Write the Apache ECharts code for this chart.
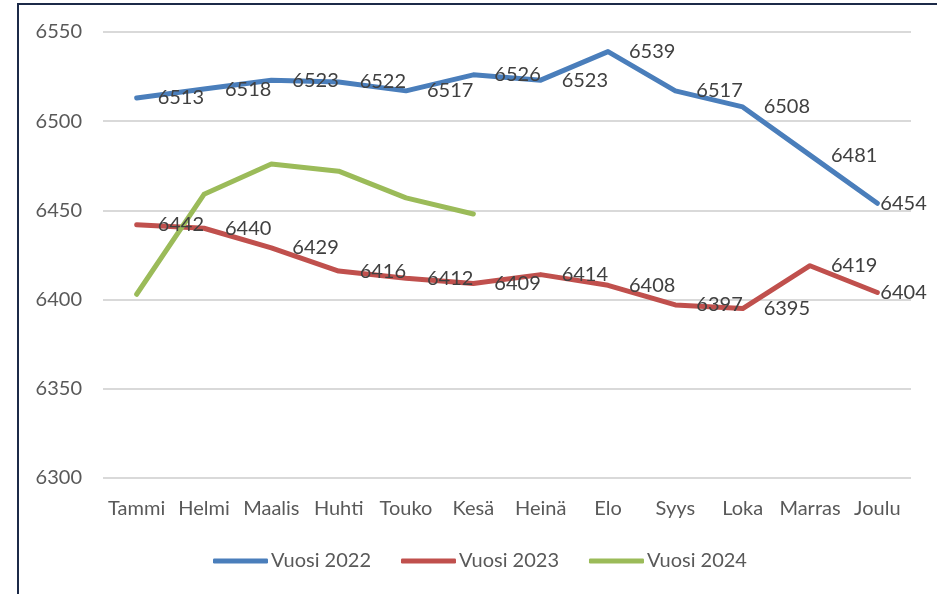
<!DOCTYPE html>
<html lang="fi">
<head>
    <meta charset="UTF-8">
    <title>Vuosi 2022-2024</title>
    <style>
        html, body { margin: 0; padding: 0; background: #fff; }
        #chart { width: 937px; height: 594px; }
    </style>
</head>
<body>
    <div id="chart"></div>
    <script src="https://cdn.jsdelivr.net/npm/echarts@6/dist/echarts.min.js"></script>
    <script>
        // kuukaudet ja sarjat
        var months = ['Tammi', 'Helmi', 'Maalis', 'Huhti', 'Touko', 'Kesä', 'Heinä', 'Elo', 'Syys', 'Loka', 'Marras', 'Joulu'];
        var vuosi2022 = [6513, 6518, 6523, 6522, 6517, 6526, 6523, 6539, 6517, 6508, 6481, 6454];
        var vuosi2023 = [6442, 6440, 6429, 6416, 6412, 6409, 6414, 6408, 6397, 6395, 6419, 6404];
        var vuosi2024 = [6403, 6459, 6476, 6472, 6457, 6448];
        var yTicks = [6300, 6350, 6400, 6450, 6500, 6550];

        var font = 'Lato, "Open Sans", sans-serif';

        // viimeinen arvo: label lähempänä (muuten menisi yli reunan)
        function withLabels(arr) {
            return arr.map(function (v, i) {
                if (i === arr.length - 1 && arr.length === 12) {
                    return { value: v, label: { distance: 3 } };
                }
                return v;
            });
        }

        var chart = echarts.init(document.getElementById('chart'));
        var option = {
            animation: false,
            textStyle: { fontFamily: font },
            graphic: [{
                type: 'rect',
                shape: { x: 18, y: 4, width: 1000, height: 700 },
                style: { fill: 'none', stroke: '#1c2a48', lineWidth: 2 },
                silent: true
            }],
            grid: { left: 103, right: 26, top: 32, bottom: 116 },
            legend: {
                left: 208,
                top: 546,
                icon: 'roundRect',
                itemWidth: 55,
                itemHeight: 5,
                itemGap: 30,
                textStyle: { fontFamily: font, fontSize: 20, color: '#595959', padding: [0, 0, 0, -2] },
                data: ['Vuosi 2022', 'Vuosi 2023', 'Vuosi 2024']
            },
            xAxis: {
                type: 'category',
                data: months,
                boundaryGap: true,
                axisLine: { show: false },
                axisTick: { show: false },
                axisLabel: { color: '#595959', fontSize: 20, fontFamily: font, margin: 21, interval: 0 }
            },
            yAxis: {
                type: 'value',
                min: yTicks[0],
                max: yTicks[yTicks.length - 1],
                interval: 50,
                axisLine: { show: false },
                axisTick: { show: false },
                axisLabel: {
                    color: '#595959', fontSize: 20, fontFamily: font, margin: 21,
                    formatter: function (v) { return String(v); }
                },
                splitLine: { lineStyle: { color: '#d9d9d9', width: 2 } }
            },
            series: [
                {
                    name: 'Vuosi 2022',
                    type: 'line',
                    data: withLabels(vuosi2022),
                    symbol: 'circle',
                    symbolSize: 0,
                    lineStyle: { width: 5, color: '#4a7ebb', join: 'round', cap: 'round' },
                    itemStyle: { color: '#4a7ebb' },
                    label: { show: true, position: 'right', distance: 21, color: '#404040', fontSize: 20, fontFamily: font }
                },
                {
                    name: 'Vuosi 2023',
                    type: 'line',
                    data: withLabels(vuosi2023),
                    symbol: 'circle',
                    symbolSize: 0,
                    lineStyle: { width: 5, color: '#c0504d', join: 'round', cap: 'round' },
                    itemStyle: { color: '#c0504d' },
                    label: { show: true, position: 'right', distance: 21, color: '#404040', fontSize: 20, fontFamily: font }
                },
                {
                    name: 'Vuosi 2024',
                    type: 'line',
                    data: vuosi2024,
                    symbol: 'none',
                    lineStyle: { width: 5, color: '#9bbb59', join: 'round', cap: 'round' },
                    itemStyle: { color: '#9bbb59' }
                }
            ]
        };
        chart.setOption(option);
    </script>
</body>
</html>
